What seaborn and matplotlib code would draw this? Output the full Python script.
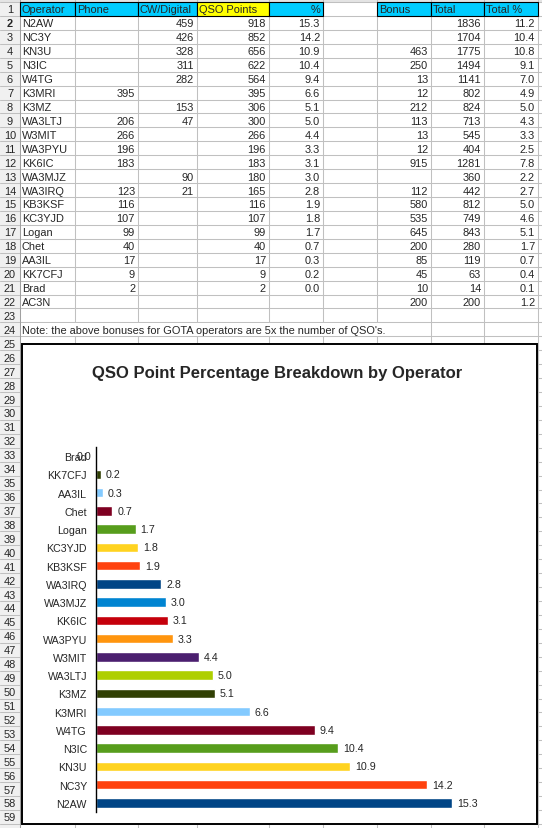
import matplotlib.pyplot as plt
import numpy as np
import seaborn as sns
import pandas as pd
from matplotlib.patches import Rectangle

# Tabellendaten (Zeilen 2-22)
operators = ['N2AW', 'NC3Y', 'KN3U', 'N3IC', 'W4TG', 'K3MRI', 'K3MZ', 'WA3LTJ', 'W3MIT',
             'WA3PYU', 'KK6IC', 'WA3MJZ', 'WA3IRQ', 'KB3KSF', 'KC3YJD', 'Logan', 'Chet',
             'AA3IL', 'KK7CFJ', 'Brad', 'AC3N']
phone = [None, None, None, None, None, 395, None, 206, 266, 196, 183, None, 123, 116, 107,
         99, 40, 17, 9, 2, None]
cw_digital = [459, 426, 328, 311, 282, None, 153, 47, None, None, None, 90, 21, None, None,
              None, None, None, None, None, None]
qso_points = [918, 852, 656, 622, 564, 395, 306, 300, 266, 196, 183, 180, 165, 116, 107,
              99, 40, 17, 9, 2, None]
pct = [15.3, 14.2, 10.9, 10.4, 9.4, 6.6, 5.1, 5.0, 4.4, 3.3, 3.1, 3.0, 2.8, 1.9, 1.8,
       1.7, 0.7, 0.3, 0.2, 0.0, None]
bonus = [None, None, 463, 250, 13, 12, 212, 113, 13, 12, 915, None, 112, 580, 535, 645,
         200, 85, 45, 10, 200]
total = [1836, 1704, 1775, 1494, 1141, 802, 824, 713, 545, 404, 1281, 360, 442, 812, 749,
         843, 280, 119, 63, 14, 200]
total_pct = [11.2, 10.4, 10.8, 9.1, 7.0, 4.9, 5.0, 4.3, 3.3, 2.5, 7.8, 2.2, 2.7, 5.0, 4.6,
             5.1, 1.7, 0.7, 0.4, 0.1, 1.2]

headers = ['Operator', 'Phone', 'CW/Digital', 'QSO Points', '%', '', 'Bonus', 'Total', 'Total %']
note = "Note: the above bonuses for GOTA operators are 5x the number of QSO's."
title = 'QSO Point Percentage Breakdown by Operator'

bar_colors = ['#004586', '#ff420e', '#ffd320', '#579d1c', '#7e0021', '#83caff',
              '#314004', '#aecf00', '#4b1f6f', '#ff950e', '#c5000b', '#0084d1']

sns.set_style('white')
plt.rcParams['font.family'] = ['Liberation Sans', 'DejaVu Sans']

W, H = 542, 829
fig = plt.figure(figsize=(W / 100, H / 100), dpi=100)
bg = fig.add_axes([0, 0, 1, 1])
bg.set_xlim(0, W)
bg.set_ylim(H, 0)
bg.axis('off')

col_edges = [20, 75, 138, 197, 269, 323, 377, 431, 484, 538]
row_h = 13.93
top0 = 3
fs = 7.9
grid_c = '#c0c0c0'

def row_top(k):
    return top0 + (k - 1) * row_h

# Zeilenkopf
bg.add_patch(Rectangle((0, 0), col_edges[0], H, facecolor='#f0f0f0', edgecolor='none', zorder=0))
bg.add_patch(Rectangle((0, 0), W, top0, facecolor='#e4e4e4', edgecolor='none', zorder=0))

# Kopfzeile
for j, h in enumerate(headers):
    if h == '':
        continue
    c = '#ffff00' if h == 'QSO Points' else '#00ccff'
    bg.add_patch(Rectangle((col_edges[j], row_top(1)), col_edges[j + 1] - col_edges[j], row_h,
                           facecolor=c, edgecolor='black', lw=0.8, zorder=2))
    if h == '%':
        bg.text(col_edges[j + 1] - 3, row_top(1) + row_h / 2 + 0.5, h, ha='right', va='center', fontsize=fs, zorder=3)
    else:
        bg.text(col_edges[j] + 2, row_top(1) + row_h / 2 + 0.5, h, ha='left', va='center', fontsize=fs, zorder=3)

# Gitternetz
for k in range(1, 61):
    y = row_top(k)
    bg.plot([0, W], [y, y], color=grid_c, lw=0.75, zorder=1)
for j, x in enumerate(col_edges):
    bg.plot([x, x], [0, H], color=grid_c if j else '#a0a0a0', lw=0.75, zorder=1)
# Textüberlauf in Zeile 24 verdeckt die Zellgrenzen
bg.add_patch(Rectangle((col_edges[0] + 0.6, row_top(24) + 0.5), col_edges[6] - col_edges[0] + 1,
                       row_h - 1, facecolor='white', edgecolor='none', zorder=1.5))

# Zeilennummern
for k in range(1, 60):
    bg.text(col_edges[0] / 2, row_top(k) + row_h / 2 + 0.5, str(k), ha='center', va='center',
            fontsize=fs, fontweight='bold' if k == 2 else 'normal', zorder=3)

def fmt(v, dec=False):
    if v is None:
        return ''
    return f'{v:.1f}' if dec else f'{v}'

columns = [phone, cw_digital, qso_points, pct, None, bonus, total, total_pct]
for i, op in enumerate(operators):
    k = i + 2
    yc = row_top(k) + row_h / 2 + 0.5
    bg.text(col_edges[0] + 2, yc, op, ha='left', va='center', fontsize=fs, zorder=3)
    for j, col in enumerate(columns):
        if col is None:
            continue
        s = fmt(col[i], dec=col in (pct, total_pct))
        bg.text(col_edges[j + 2] - 3, yc, s, ha='right', va='center', fontsize=fs, zorder=3)

bg.text(col_edges[0] + 2, row_top(24) + row_h / 2 + 0.5, note, ha='left', va='center', fontsize=fs, zorder=3)

# Diagrammrahmen
bg.add_patch(Rectangle((22, 345), 537 - 22, 825 - 345, facecolor='white', edgecolor='black',
                       lw=1.4, zorder=4))
bg.text(277.5, 373, title, ha='center', va='center', fontsize=12, fontweight='bold', zorder=5)

# Balkendiagramm
chart_ops = operators[:20]
chart_pct = pct[:20]
df = pd.DataFrame({'Operator': chart_ops, 'Pct': chart_pct})
palette = [bar_colors[i % len(bar_colors)] for i in range(len(chart_ops))]

xmax = 18
px_per_unit = 23.3
ax_l, ax_t, ax_b = 96, 448, 813
ax = fig.add_axes([ax_l / W, 1 - ax_b / H, xmax * px_per_unit / W, (ax_b - ax_t) / H])
ax.set_zorder(6)
ax.patch.set_alpha(0)
sns.barplot(data=df, x='Pct', y='Operator', hue='Operator', palette=palette, legend=False,
            width=0.53, saturation=1, ax=ax, order=chart_ops)
ax.set_ylim(-0.5, len(chart_ops) - 0.5)
ax.set_xlim(0, xmax)
for side in ['top', 'right', 'bottom']:
    ax.spines[side].set_visible(False)
ax.spines['left'].set_color('black')
ax.spines['left'].set_linewidth(1.0)
ax.set_xticks([])
ax.set_xlabel('')
ax.set_ylabel('')
ax.tick_params(axis='y', length=0, pad=6.5, labelsize=7.7)

for i, v in enumerate(chart_pct):
    if v < 0.05:
        # wie im Original: Beschriftung des Nullbalkens links der Achse
        ax.annotate(f'{v:.1f}', (0, i), xytext=(-3.5, 0), textcoords='offset points',
                    ha='right', va='center', fontsize=7.7)
    else:
        ax.annotate(f'{v:.1f}', (v, i), xytext=(3.5, 0), textcoords='offset points',
                    ha='left', va='center', fontsize=7.7)

fig.savefig('out.png', dpi=100)
